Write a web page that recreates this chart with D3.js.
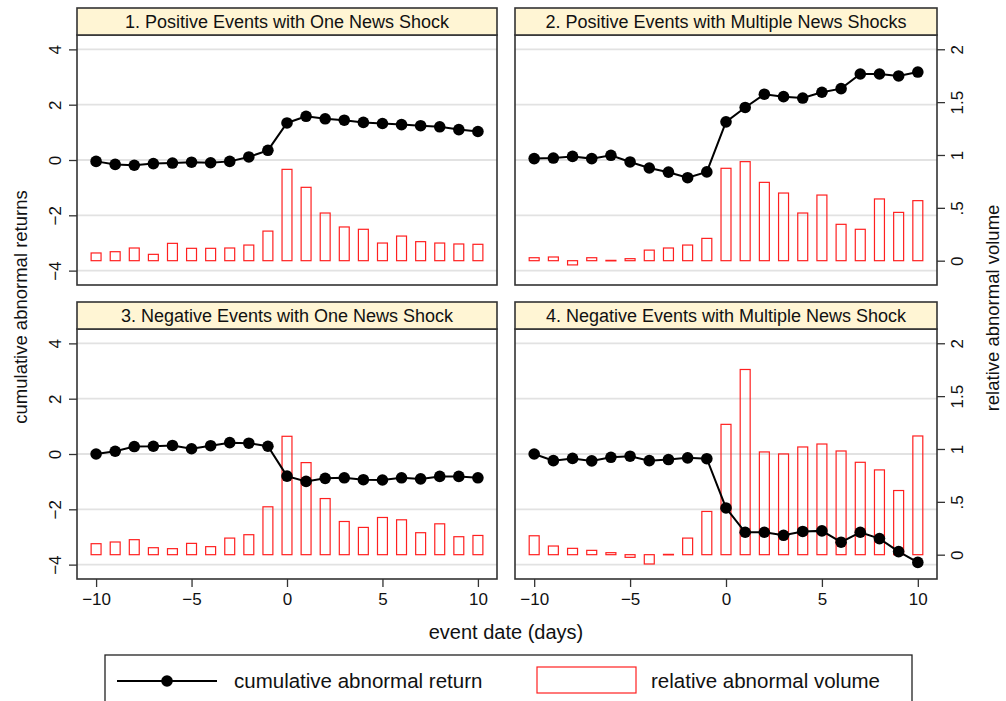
<!DOCTYPE html>
<html>
<head>
<meta charset="utf-8">
<script src="https://cdn.jsdelivr.net/npm/d3@7"></script>
<style>
  body { margin: 0; background: #fff; }
  svg text { font-family: "Liberation Sans", Arial, sans-serif; fill: #111; }
</style>
</head>
<body>
<div id="chart"></div>
<script>
const width = 1006;
const height = 701;

const days = d3.range(-10, 11);
const titles = [
  "1. Positive Events with One News Shock",
  "2. Positive Events with Multiple News Shocks",
  "3. Negative Events with One News Shock",
  "4. Negative Events with Multiple News Shock"
];

// cumulative abnormal returns (left axis)
const car1 = [-0.05, -0.16, -0.19, -0.13, -0.11, -0.08, -0.10, -0.05, 0.11, 0.35, 1.34, 1.58, 1.49, 1.44, 1.36, 1.32, 1.28, 1.24, 1.20, 1.10, 1.03];
const car2 = [0.05, 0.07, 0.13, 0.05, 0.17, -0.07, -0.29, -0.44, -0.64, -0.43, 1.38, 1.90, 2.38, 2.29, 2.24, 2.45, 2.58, 3.11, 3.11, 3.04, 3.18];
const car3 = [0.00, 0.10, 0.27, 0.28, 0.31, 0.19, 0.30, 0.41, 0.39, 0.28, -0.80, -0.99, -0.88, -0.86, -0.93, -0.94, -0.86, -0.90, -0.81, -0.81, -0.86];
const car4 = [0.00, -0.24, -0.16, -0.25, -0.12, -0.08, -0.24, -0.20, -0.14, -0.17, -1.95, -2.83, -2.83, -2.94, -2.80, -2.78, -3.19, -2.83, -3.06, -3.53, -3.92];

// relative abnormal volume (right axis)
const vol1 = [0.073, 0.085, 0.12, 0.06, 0.164, 0.117, 0.117, 0.12, 0.148, 0.28, 0.864, 0.694, 0.451, 0.319, 0.297, 0.167, 0.233, 0.18, 0.167, 0.158, 0.155];
const vol2 = [0.028, 0.035, -0.04, 0.028, 0.003, 0.019, 0.10, 0.12, 0.148, 0.211, 0.874, 0.937, 0.741, 0.64, 0.451, 0.621, 0.344, 0.297, 0.584, 0.457, 0.568];
const vol3 = [0.104, 0.12, 0.142, 0.066, 0.057, 0.107, 0.076, 0.157, 0.189, 0.453, 1.12, 0.871, 0.531, 0.314, 0.258, 0.352, 0.33, 0.208, 0.292, 0.17, 0.182];
const vol4 = [0.179, 0.082, 0.06, 0.041, 0.019, -0.025, -0.088, 0.003, 0.157, 0.409, 1.233, 1.752, 0.972, 0.953, 1.019, 1.047, 0.981, 0.874, 0.802, 0.607, 1.123];

const leftTicks = [4, 2, 0, -2, -4];
const rightTicks = [0, 0.5, 1, 1.5, 2];
const rightTickLabels = ["0", ".5", "1", "1.5", "2"];
const xTicks = [-10, -5, 0, 5, 10];

const cars = [car1, car2, car3, car4];
const vols = [vol1, vol2, vol3, vol4];

const cols = [[77, 497], [515, 937]];
const rows = [[8, 35, 285], [302, 329, 579]];

const svg = d3.select("#chart")
  .append("svg")
  .attr("width", width)
  .attr("height", height);

const fmtMinus = v => String(v).replace("-", "\u2212");

titles.forEach((title, i) => {
  const [x0, x1] = cols[i % 2];
  const [hTop, pTop, pBot] = rows[Math.floor(i / 2)];

  const x = d3.scaleLinear().domain([-11, 11]).range([x0, x1]);
  const yL = d3.scaleLinear().domain([-4.52, 4.52]).range([pBot, pTop]);
  const yR = d3.scaleLinear().domain([-0.23, 2.135]).range([pBot, pTop]);

  const g = svg.append("g");

  // plot background + gridlines
  g.append("rect")
    .attr("x", x0).attr("y", pTop)
    .attr("width", x1 - x0).attr("height", pBot - pTop)
    .attr("fill", "#fff");

  g.selectAll(".grid")
    .data(leftTicks)
    .enter()
    .append("line")
    .attr("x1", x0).attr("x2", x1)
    .attr("y1", d => yL(d)).attr("y2", d => yL(d))
    .attr("stroke", "#e2e2e2")
    .attr("stroke-width", 1.8);

  // volume bars
  const bw = x(0.26) - x(-0.26);
  g.selectAll(".bar")
    .data(days.map((d, j) => ({ d, v: vols[i][j] })))
    .enter()
    .append("rect")
    .attr("x", p => x(p.d) - bw / 2)
    .attr("y", p => yR(Math.max(0, p.v)))
    .attr("width", bw)
    .attr("height", p => Math.max(0.5, Math.abs(yR(p.v) - yR(0))))
    .attr("fill", "none")
    .attr("stroke", "#ff2020")
    .attr("stroke-width", 1.2);

  // cumulative abnormal return line
  const pts = days.map((d, j) => [d, cars[i][j]]);
  g.append("path")
    .datum(pts)
    .attr("d", d3.line().x(p => x(p[0])).y(p => yL(p[1])))
    .attr("fill", "none")
    .attr("stroke", "#000")
    .attr("stroke-width", 2);

  g.selectAll(".dot")
    .data(pts)
    .enter()
    .append("circle")
    .attr("cx", p => x(p[0]))
    .attr("cy", p => yL(p[1]))
    .attr("r", 5.8)
    .attr("fill", "#000");

  // frame
  g.append("rect")
    .attr("x", x0).attr("y", pTop)
    .attr("width", x1 - x0).attr("height", pBot - pTop)
    .attr("fill", "none")
    .attr("stroke", "#333")
    .attr("stroke-width", 1.6);

  // header
  g.append("rect")
    .attr("x", x0).attr("y", hTop)
    .attr("width", x1 - x0).attr("height", pTop - hTop)
    .attr("fill", "#fff5d4")
    .attr("stroke", "#333")
    .attr("stroke-width", 1.6);

  g.append("text")
    .attr("x", (x0 + x1) / 2)
    .attr("y", hTop + 20)
    .attr("text-anchor", "middle")
    .attr("font-size", "18px")
    .text(title);

  // left axis
  if (i % 2 === 0) {
    const ax = g.append("g")
      .attr("transform", `translate(${x0},0)`)
      .call(d3.axisLeft(yL).tickValues(leftTicks).tickSize(8).tickFormat(fmtMinus));
    ax.select(".domain").remove();
    ax.selectAll("line").attr("stroke", "#333").attr("stroke-width", 1.3);
    ax.selectAll("text")
      .attr("font-size", "17px")
      .attr("x", -22)
      .attr("y", 0)
      .attr("dy", null)
      .attr("transform", "rotate(-90,-22,0)")
      .attr("text-anchor", "middle")
      .attr("dominant-baseline", "central");
  } else {
    const ax = g.append("g")
      .attr("transform", `translate(${x1},0)`)
      .call(d3.axisRight(yR).tickValues(rightTicks).tickSize(8)
        .tickFormat((d, k) => rightTickLabels[k]));
    ax.select(".domain").remove();
    ax.selectAll("line").attr("stroke", "#333").attr("stroke-width", 1.3);
    ax.selectAll("text")
      .attr("font-size", "17px")
      .attr("x", 20)
      .attr("y", 0)
      .attr("dy", null)
      .attr("transform", "rotate(-90,20,0)")
      .attr("text-anchor", "middle")
      .attr("dominant-baseline", "central");
  }

  // bottom axis
  if (i >= 2) {
    const ax = g.append("g")
      .attr("transform", `translate(0,${pBot})`)
      .call(d3.axisBottom(x).tickValues(xTicks).tickSize(8).tickPadding(6).tickFormat(fmtMinus));
    ax.select(".domain").remove();
    ax.selectAll("line").attr("stroke", "#333").attr("stroke-width", 1.3);
    ax.selectAll("text").attr("font-size", "17px");
  }
});

// axis titles
svg.append("text")
  .attr("transform", "translate(27,307) rotate(-90)")
  .attr("text-anchor", "middle")
  .attr("font-size", "18.5px")
  .text("cumulative abnormal returns");

svg.append("text")
  .attr("transform", "translate(999,308) rotate(-90)")
  .attr("text-anchor", "middle")
  .attr("font-size", "18.5px")
  .text("relative abnormal volume");

svg.append("text")
  .attr("x", 506)
  .attr("y", 639)
  .attr("text-anchor", "middle")
  .attr("font-size", "20px")
  .text("event date (days)");

// legend
const legend = svg.append("g");
legend.append("rect")
  .attr("x", 105).attr("y", 655)
  .attr("width", 807).attr("height", 54)
  .attr("fill", "#fff")
  .attr("stroke", "#222")
  .attr("stroke-width", 1.3);

legend.append("line")
  .attr("x1", 117).attr("x2", 217)
  .attr("y1", 681).attr("y2", 681)
  .attr("stroke", "#000")
  .attr("stroke-width", 2);

legend.append("circle")
  .attr("cx", 167).attr("cy", 681)
  .attr("r", 5.8)
  .attr("fill", "#000");

legend.append("text")
  .attr("x", 234).attr("y", 688)
  .attr("font-size", "20.5px")
  .text("cumulative abnormal return");

legend.append("rect")
  .attr("x", 537).attr("y", 667)
  .attr("width", 99).attr("height", 26)
  .attr("fill", "none")
  .attr("stroke", "#ff2020")
  .attr("stroke-width", 1.2);

legend.append("text")
  .attr("x", 651).attr("y", 688)
  .attr("font-size", "20.5px")
  .text("relative abnormal volume");
</script>
</body>
</html>
